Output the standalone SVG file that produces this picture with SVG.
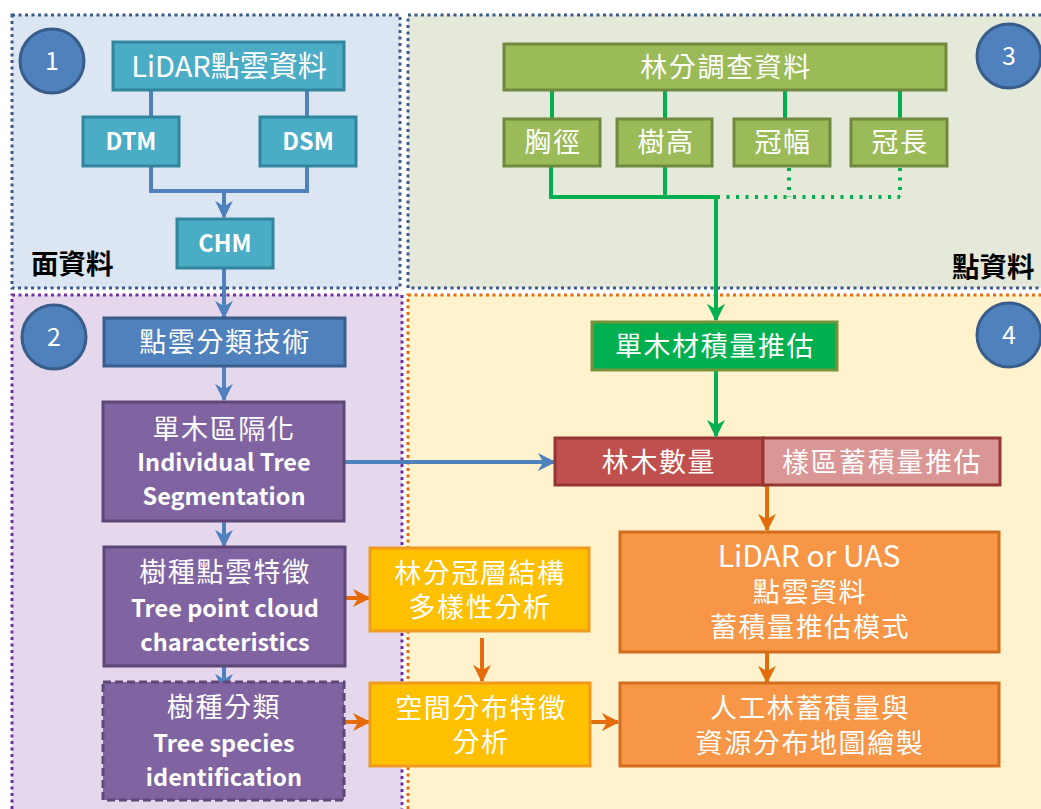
<svg xmlns="http://www.w3.org/2000/svg" width="1041" height="809" viewBox="0 0 1041 809">
<defs>
<style>
.cjk{font-family:"Noto Sans CJK TC","Noto Sans CJK SC",sans-serif;}
.t{font-family:"Noto Sans CJK TC","Noto Sans CJK SC",sans-serif;fill:#fff;text-anchor:middle;}
.en{font-weight:bold;font-size:23.5px;}
.zh{font-size:27px;letter-spacing:1.6px;}
.cyan{fill:#4bacc6;stroke:#31859c;stroke-width:3;}
.blue{fill:#4f81bd;stroke:#385d8a;stroke-width:3;}
.purple{fill:#8064a2;stroke:#5c4776;stroke-width:3;}
.olive{fill:#9bbb59;stroke:#71893f;stroke-width:3;}
.yel{fill:#ffc000;stroke:#f09a20;stroke-width:3;}
.ora{fill:#f79646;stroke:#d46d1c;stroke-width:3;}
.lb{stroke:#4f81bd;stroke-width:4;fill:none;}
.lg{stroke:#00b050;stroke-width:4;fill:none;}
.lo{stroke:#e46c0a;stroke-width:4;fill:none;}
.circ{fill:#4f81bd;stroke:#385d8a;stroke-width:3;}
</style>
<marker id="ab" viewBox="0 0 10 10" refX="9" refY="5" markerWidth="4.5" markerHeight="4.5" orient="auto" markerUnits="strokeWidth"><path d="M0,0 L10,5 L0,10 L3,5 Z" fill="#4f81bd"/></marker>
<marker id="ag" viewBox="0 0 10 10" refX="9" refY="5" markerWidth="4.5" markerHeight="4.5" orient="auto" markerUnits="strokeWidth"><path d="M0,0 L10,5 L0,10 L3,5 Z" fill="#00b050"/></marker>
<marker id="ao" viewBox="0 0 10 10" refX="9" refY="5" markerWidth="4.5" markerHeight="4.5" orient="auto" markerUnits="strokeWidth"><path d="M0,0 L10,5 L0,10 L3,5 Z" fill="#e46c0a"/></marker>
</defs>
<rect width="1041" height="809" fill="#ffffff"/>
<!-- regions -->
<g id="region1"><rect x="12" y="15" width="388" height="273" fill="#dce6f2" stroke="#3a5a8c" stroke-width="3" stroke-dasharray="3 3.5"/></g>
<g id="region3"><rect x="408" y="15" width="650" height="273" fill="#e4e9da" stroke="#3a5a8c" stroke-width="3" stroke-dasharray="3 3.5"/></g>
<g id="region2"><rect x="12" y="295" width="390" height="530" fill="#e5d8ec" stroke="#7030a0" stroke-width="3" stroke-dasharray="3 3.5"/></g>
<g id="region4"><rect x="408" y="295" width="650" height="530" fill="#fff2cc" stroke="#e46c0a" stroke-width="3" stroke-dasharray="3 3.5"/></g>
<text class="cjk" x="31" y="274" font-size="27.5" font-weight="bold" fill="#000">面資料</text>
<text class="cjk" x="952" y="277" font-size="27.5" font-weight="bold" fill="#000">點資料</text>
<!-- connectors -->
<g id="connectors">
<path class="lb" d="M151,91 V117 M307,91 V117"/>
<path class="lb" d="M151,166 V191 H307 V166 M224,191 V217" marker-end="url(#ab)"/>
<path class="lb" d="M224,268 V317" marker-end="url(#ab)"/>
<path class="lb" d="M224,367 V400" marker-end="url(#ab)"/>
<path class="lb" d="M224,521 V546" marker-end="url(#ab)"/>
<path class="lb" d="M224,666 V690" marker-end="url(#ab)"/>
<path class="lb" d="M345,462 H554" marker-end="url(#ab)"/>
<path class="lg" d="M552,90 V119 M665,90 V119 M785,90 V119 M900,90 V119"/>
<path class="lg" d="M551,166 V197 H717 M665,166 V197"/>
<path class="lg" d="M717,197 H900 M789,168 V197 M900,168 V197" stroke-dasharray="3 6.5"/>
<path class="lg" d="M716,197 V320" marker-end="url(#ag)"/>
<path class="lg" d="M716,370 V436" marker-end="url(#ag)"/>
<path class="lo" d="M767,486 V530" marker-end="url(#ao)"/>
<path class="lo" d="M767,652 V682" marker-end="url(#ao)"/>
<path class="lo" d="M345,598 H369" marker-end="url(#ao)"/>
<path class="lo" d="M345,722 H369" marker-end="url(#ao)"/>
<path class="lo" d="M482,638 V681" marker-end="url(#ao)"/>
<path class="lo" d="M590,722 H618" marker-end="url(#ao)"/>
</g>
<!-- circles -->
<g id="c1"><circle class="circ" cx="52" cy="61" r="32"/><text class="t" x="52" y="70" font-size="25">1</text></g>
<g id="c2"><circle class="circ" cx="54" cy="337" r="32"/><text class="t" x="54" y="346" font-size="25">2</text></g>
<g id="c3"><circle class="circ" cx="1009" cy="56" r="32"/><text class="t" x="1009" y="65" font-size="25">3</text></g>
<g id="c4"><circle class="circ" cx="1009" cy="335" r="32"/><text class="t" x="1009" y="344" font-size="25">4</text></g>
<!-- region 1 -->
<g id="lidar"><rect class="cyan" x="113" y="42" width="231" height="48"/><text class="t" x="229" y="77" font-size="29">LiDAR點雲資料</text></g>
<g id="dtm"><rect class="cyan" x="83" y="117" width="96" height="49"/><text class="t en" x="131" y="150" font-size="24">DTM</text></g>
<g id="dsm"><rect class="cyan" x="260" y="117" width="96" height="49"/><text class="t en" x="308" y="150">DSM</text></g>
<g id="chm"><rect class="cyan" x="177" y="219" width="96" height="49"/><text class="t en" x="225" y="252">CHM</text></g>
<!-- region 3 -->
<g id="stand"><rect class="olive" x="504" y="44" width="442" height="46"/><text class="t zh" x="726" y="77">林分調查資料</text></g>
<g id="dbh"><rect class="olive" x="504" y="119" width="96" height="47"/><text class="t zh" x="553" y="152">胸徑</text></g>
<g id="height"><rect class="olive" x="617" y="119" width="95" height="47"/><text class="t zh" x="666" y="152">樹高</text></g>
<g id="cw"><rect class="olive" x="734" y="119" width="96" height="47"/><text class="t zh" x="783" y="152">冠幅</text></g>
<g id="cl"><rect class="olive" x="851" y="119" width="96" height="47"/><text class="t zh" x="900" y="152">冠長</text></g>
<!-- region 2 -->
<g id="classify"><rect class="blue" x="104" y="318" width="241" height="48"/><text class="t zh" x="225" y="352">點雲分類技術</text></g>
<g id="seg"><rect class="purple" x="103" y="402" width="241" height="119"/>
<text class="t zh" x="224" y="439">單木區隔化</text>
<text class="t en" x="224" y="471">Individual Tree</text>
<text class="t en" x="224" y="505">Segmentation</text></g>
<g id="feat"><rect class="purple" x="104" y="547" width="241" height="119"/>
<text class="t zh" x="225" y="582">樹種點雲特徵</text>
<text class="t en" x="225" y="617">Tree point cloud</text>
<text class="t en" x="225" y="651">characteristics</text></g>
<g id="species"><rect x="103" y="682" width="241" height="118" fill="#8064a2" stroke="#5c4776" stroke-width="3" stroke-dasharray="8 4"/>
<text class="t zh" x="224" y="717">樹種分類</text>
<text class="t en" x="224" y="752">Tree species</text>
<text class="t en" x="224" y="786">identification</text></g>
<!-- region 4 -->
<g id="vol"><rect x="592" y="322" width="245" height="48" fill="#00b050" stroke="#77933c" stroke-width="3"/><text class="t zh" x="715" y="356">單木材積量推估</text></g>
<g id="count"><rect x="555" y="438" width="208" height="47" fill="#c0504d" stroke="#943634" stroke-width="3"/><text class="t zh" x="659" y="472">林木數量</text></g>
<g id="plot"><rect x="763" y="438" width="237" height="47" fill="#d99694" stroke="#943634" stroke-width="3"/><text class="t zh" x="882" y="472">樣區蓄積量推估</text></g>
<g id="canopy"><rect class="yel" x="370" y="548" width="219" height="83"/>
<text class="t zh" x="480" y="583">林分冠層結構</text>
<text class="t zh" x="480" y="617">多樣性分析</text></g>
<g id="spatial"><rect class="yel" x="370" y="683" width="220" height="83"/>
<text class="t zh" x="481" y="718">空間分布特徵</text>
<text class="t zh" x="481" y="752">分析</text></g>
<g id="model"><rect class="ora" x="620" y="532" width="379" height="120"/>
<text class="t" x="809" y="567" font-size="30">LiDAR or UAS</text>
<text class="t zh" x="810" y="602">點雲資料</text>
<text class="t zh" x="810" y="637">蓄積量推估模式</text></g>
<g id="map"><rect class="ora" x="620" y="683" width="379" height="83"/>
<text class="t zh" x="810" y="718">人工林蓄積量與</text>
<text class="t zh" x="810" y="753">資源分布地圖繪製</text></g>
</svg>
